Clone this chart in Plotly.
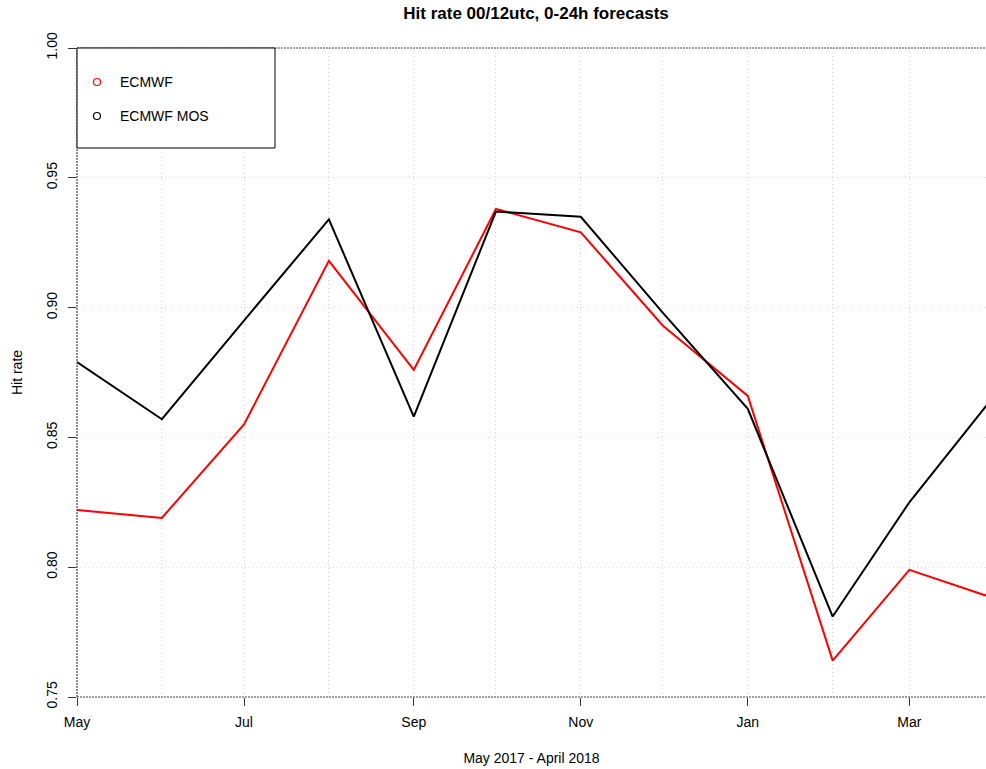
import plotly.graph_objects as go

# ---- data ----
months = ["2017-05-01", "2017-06-01", "2017-07-01", "2017-08-01", "2017-09-01", "2017-10-01",
          "2017-11-01", "2017-12-01", "2018-01-01", "2018-02-01", "2018-03-01", "2018-04-01"]
ecmwf = [0.822, 0.819, 0.855, 0.918, 0.876, 0.938, 0.929, 0.893, 0.866, 0.764, 0.799, 0.788]
ecmwf_mos = [0.879, 0.857, 0.895, 0.934, 0.858, 0.937, 0.935, 0.898, 0.861, 0.781, 0.825, 0.866]
series_names = ["ECMWF", "ECMWF MOS"]
series_colors = ["#ff0000", "#000000"]
y_ticks = [0.75, 0.80, 0.85, 0.90, 0.95, 1.00]

FONT = "Liberation Sans, Arial, Helvetica, sans-serif"
W, H = 986, 769
ML, MR, MT, MB = 77, 0, 48, 72
PW, PH = W - ML - MR, H - MT - MB
GRID_DASH = "1px,3px"
GRID_COLOR = "#d4d4d4"

fig = go.Figure()
for name, vals, col in zip(series_names, [ecmwf, ecmwf_mos], series_colors):
    fig.add_trace(go.Scatter(x=months, y=vals, mode="lines", name=name,
                             line=dict(color=col, width=2), showlegend=False))

def px_x(px):
    return (px - ML) / PW

def px_y(py):
    return (H - MB - py) / PH

shapes = []
# frame lines (dotted dark)
for yv in (0, 1):
    shapes.append(dict(type="line", xref="paper", yref="paper", x0=0, x1=1, y0=yv, y1=yv,
                       line=dict(color="#444444", width=1.2, dash="2px,1px")))
shapes.append(dict(type="line", xref="paper", yref="paper", x0=0, x1=0, y0=0, y1=1,
                   line=dict(color="#444444", width=1.2, dash="2px,1px")))
# legend box
shapes.append(dict(type="rect", xref="paper", yref="paper", x0=0, x1=px_x(275), y0=px_y(148), y1=1,
                   line=dict(color="#000000", width=1), fillcolor="white", layer="above"))
annotations = []
for i, (name, col) in enumerate(zip(series_names, series_colors)):
    yy = 82 + 34 * i
    shapes.append(dict(type="circle", xref="paper", yref="paper", xsizemode="pixel", ysizemode="pixel",
                       xanchor=px_x(97), yanchor=px_y(yy), x0=-3.5, x1=3.5, y0=-3.5, y1=3.5,
                       line=dict(color=col, width=1.2), layer="above"))
    annotations.append(dict(xref="paper", yref="paper", x=px_x(118), y=px_y(yy), text=name,
                            showarrow=False, xanchor="left", yanchor="middle",
                            font=dict(family=FONT, size=14, color="#000000")))

fig.update_layout(
    width=W, height=H,
    margin=dict(l=ML, r=MR, t=MT, b=MB, autoexpand=False),
    paper_bgcolor="white", plot_bgcolor="white",
    font=dict(family=FONT, size=14, color="#000000"),
    title=dict(text="<b>Hit rate 00/12utc, 0-24h forecasts</b>", x=0.505, xref="paper",
               y=1 - 13 / H, yref="container", xanchor="center", yanchor="middle",
               font=dict(family=FONT, size=17, color="#000000")),
    showlegend=False,
    shapes=shapes,
    annotations=annotations,
    xaxis=dict(type="date", range=["2017-05-01", "2018-03-29"], tick0="2017-05-01", dtick="M2",
               tickformat="%b", ticks="outside", ticklen=8, tickcolor="#333333",
               ticklabelstandoff=4,
               showgrid=True, gridcolor=GRID_COLOR, griddash=GRID_DASH, gridwidth=1,
               minor=dict(dtick="M1", tick0="2017-05-01", showgrid=True, gridcolor=GRID_COLOR,
                          griddash=GRID_DASH, gridwidth=1, ticks=""),
               zeroline=False, showline=False, automargin=False,
               title=dict(text="May 2017 - April 2018", standoff=24,
                          font=dict(family=FONT, size=14))),
    yaxis=dict(range=[0.75, 1.0], tickvals=y_ticks, tickformat=".2f", tickangle=-90,
               ticks="outside", ticklen=8, tickcolor="#333333",
               ticklabelstandoff=5,
               showgrid=True, gridcolor=GRID_COLOR, griddash=GRID_DASH, gridwidth=1,
               zeroline=False, showline=False, automargin=False,
               title=dict(text="Hit rate", standoff=18, font=dict(family=FONT, size=14))),
)

fig.write_html("out.html", config={"displayModeBar": False},
               post_script="document.body.style.margin='0';document.body.style.overflow='hidden';")
